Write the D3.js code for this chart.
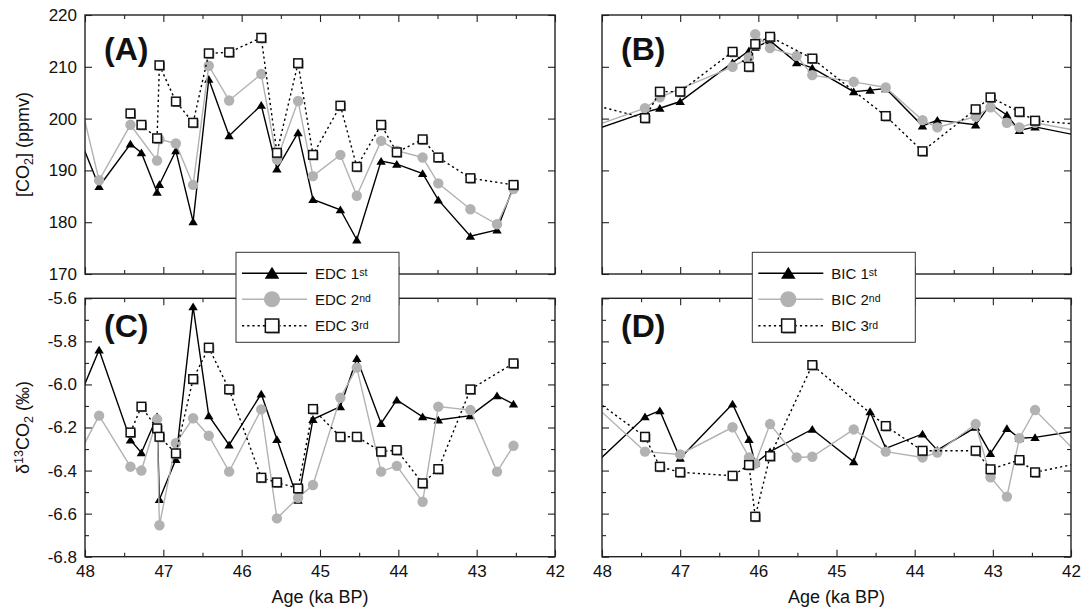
<!DOCTYPE html>
<html>
<head>
<meta charset="utf-8">
<script src="https://cdn.jsdelivr.net/npm/d3@7"></script>
<style>
  body { margin: 0; background: #fff; }
  svg { display: block; }
  text { font-family: "Liberation Sans", Arial, Helvetica, sans-serif; fill: #111; }
</style>
</head>
<body>
<svg id="chart" width="1084" height="613"></svg>
<script>
// ---- EDC core: sample ages (ka BP) shared by the CO2 and d13C series ----
const edcAge = [48.05, 47.82, 47.42, 47.28, 47.08, 47.05, 46.84, 46.62, 46.42, 46.16, 45.75,
                45.55, 45.28, 45.09, 44.74, 44.53, 44.22, 44.02, 43.69, 43.49, 43.08, 42.74, 42.53];
const edc1Co2 = [195.5, 186.9, 195.1, 193.4, 185.8, 187.3, 193.8, 180.1, 207.6, 196.7, 202.6,
                 190.3, 197.3, 184.4, 182.4, 176.6, 191.8, 191.2, 189.4, 184.3, 177.3, 178.5, 186.9];
const edc2Co2 = [202.6, 188.1, 198.8, null, 191.9, 196.0, 195.2, 187.2, 210.2, 203.5, 208.6,
                 192.1, 203.4, 188.9, 193.0, 185.1, 195.7, 193.8, 192.5, 187.5, 182.5, 179.6, 186.4];
const edc3Co2 = [null, null, 201.0, 198.8, 196.2, 210.3, 203.3, 199.2, 212.6, 212.8, 215.6,
                 193.4, 210.7, 193.0, 202.5, 190.7, 198.8, 193.5, 196.0, 192.5, 188.5, null, 187.2];
const edc1D13 = [-6.04, -5.84, -6.258, -6.317, -6.15, -6.534, -6.348, -5.639, -6.145, -6.281, -6.044,
                 -6.255, -6.537, -6.162, -6.103, -5.879, -6.181, -6.072, -6.15, -6.165, -6.145, -6.052, -6.091];
const edc2D13 = [-6.305, -6.145, -6.382, -6.40, -6.162, -6.654, -6.273, -6.157, -6.238, -6.405, -6.116,
                 -6.622, -6.526, -6.467, -6.062, -5.922, -6.405, -6.378, -6.545, -6.103, -6.119, -6.405, -6.285];
const edc3D13 = [null, null, -6.223, -6.103, -6.204, -6.243, -6.32, -5.975, -5.829, -6.023, -6.433,
                 -6.455, -6.483, -6.114, -6.243, -6.243, -6.312, -6.305, -6.459, -6.393, -6.023, null, -5.902];

// ---- BIC: sample ages (ka BP) ----
const bicAge = [48.1, 47.45, 47.26, 47.0, 46.33, 46.12, 46.04, 45.85, 45.51, 45.31, 44.78,
                44.57, 44.37, 43.9, 43.71, 43.22, 43.03, 42.82, 42.66, 42.46, 41.9];
const bic1Co2 = [197.8, 201.2, 202.0, 203.3, 210.8, 213.1, 213.8, 215.0, 210.8, 209.8, 205.2,
                 205.5, 205.8, 198.6, 199.7, 198.8, 202.8, 200.7, 197.7, 198.4, 196.7];
const bic2Co2 = [198.6, 202.0, 204.1, null, 210.0, 211.8, 216.3, 213.6, 212.1, 208.4, 207.1,
                 null, 206.0, 199.7, 198.3, 200.4, 202.2, 199.2, 198.3, 199.2, 197.6];
const bic3Co2 = [202.6, 200.1, 205.2, 205.2, 212.9, 210.0, 214.4, 215.8, null, 211.6, null,
                 null, 200.5, 193.7, null, 201.8, 204.1, null, 201.3, 199.6, 198.9];
const bic1D13 = [-6.372, -6.150, -6.122, -6.343, -6.091, -6.255, -6.367, -6.312, null, -6.208, -6.359,
                 -6.127, -6.297, -6.230, -6.305, -6.199, -6.320, -6.204, -6.250, -6.246, -6.214];
const bic2D13 = [-6.095, -6.312, null, -6.325, -6.199, -6.339, -6.367, -6.184, -6.339, -6.336, -6.209,
                 null, -6.312, -6.339, -6.316, -6.184, -6.431, -6.521, -6.250, -6.119, -6.327];
const bic3D13 = [-6.07, -6.243, -6.382, -6.408, -6.424, -6.374, -6.614, -6.333, null, -5.910, null,
                 null, -6.193, -6.308, null, -6.308, -6.394, null, -6.351, -6.408, -6.366];

// ---- axis ticks ----
const ageMajor = [48, 47, 46, 45, 44, 43, 42];
const ageMinor = [47.5, 46.5, 45.5, 44.5, 43.5, 42.5];
const co2Ticks = [170, 180, 190, 200, 210, 220];
const d13Major = [-6.8, -6.6, -6.4, -6.2, -6.0, -5.8, -5.6];
const d13Minor = [-6.7, -6.5, -6.3, -6.1, -5.9, -5.7];

const legendEdc = ["EDC", "EDC", "EDC"];
const legendBic = ["BIC", "BIC", "BIC"];
const ordinals = [["1", "st"], ["2", "nd"], ["3", "rd"]];

const GREY = "#b2b2b2";
const svg = d3.select("#chart");

const panels = [
  { id: "A", xr: [85, 555],  yr: [15, 274],    yd: [170, 220],   ages: edcAge, vals: [edc1Co2, edc2Co2, edc3Co2],
    yMajor: co2Ticks, yMinor: [], yLab: true, xLab: false, fmt: d => d },
  { id: "B", xr: [602, 1071], yr: [15, 274],   yd: [170, 220],   ages: bicAge, vals: [bic1Co2, bic2Co2, bic3Co2],
    yMajor: co2Ticks, yMinor: [], yLab: false, xLab: false, fmt: d => d },
  { id: "C", xr: [85, 555],  yr: [298.3, 556.7], yd: [-6.8, -5.6], ages: edcAge, vals: [edc1D13, edc2D13, edc3D13],
    yMajor: d13Major, yMinor: d13Minor, yLab: true, xLab: true, fmt: d => d.toFixed(1) },
  { id: "D", xr: [602, 1071], yr: [298.3, 556.7], yd: [-6.8, -5.6], ages: bicAge, vals: [bic1D13, bic2D13, bic3D13],
    yMajor: d13Major, yMinor: d13Minor, yLab: false, xLab: true, fmt: d => d.toFixed(1) }
];

// marker painters
function triangle(g, s) {
  const w = 4.7 * s, h = 4.2 * s;
  g.append("path").attr("d", `M0,${-h}L${w},${h * 0.85}L${-w},${h * 0.85}Z`).attr("fill", "#000");
}
function dot(g, s) {
  g.append("circle").attr("r", 5.2 * s).attr("fill", GREY);
}
function square(g, s) {
  const a = 4.3 * s;
  g.append("rect").attr("x", -a + 1.2).attr("y", -a + 1.2).attr("width", 2 * a).attr("height", 2 * a)
    .attr("fill", "#777");
  g.append("rect").attr("x", -a).attr("y", -a).attr("width", 2 * a).attr("height", 2 * a)
    .attr("fill", "#fff").attr("stroke", "#111").attr("stroke-width", 1.5);
}
const styles = [
  { stroke: "#000", dash: null, mark: triangle },
  { stroke: GREY, dash: null, mark: dot },
  { stroke: "#000", dash: "2.2,3", mark: square }
];

function styleAxis(sel, size) {
  sel.attr("font-size", null).attr("font-family", null);
  sel.select(".domain").remove();
  sel.selectAll(".tick line").attr("stroke", "#222").attr("stroke-width", 1.1);
  sel.selectAll("text").attr("font-size", size).attr("fill", "#111");
}

panels.forEach(p => {
  const x = d3.scaleLinear().domain([48, 42]).range(p.xr);
  const y = d3.scaleLinear().domain(p.yd).range([p.yr[1], p.yr[0]]);
  const g = svg.append("g");
  const [x0, x1] = p.xr, [y0, y1] = p.yr;

  // ticks on all four sides, pointing inward
  const none = () => "";
  g.append("g").attr("transform", `translate(0,${y1})`)
    .call(d3.axisBottom(x).tickValues(ageMajor).tickSize(-7).tickPadding(8)
      .tickFormat(p.xLab ? d3.format("d") : none)).call(s => styleAxis(s, 17));
  g.append("g").attr("transform", `translate(0,${y1})`)
    .call(d3.axisBottom(x).tickValues(ageMinor).tickSize(-4).tickFormat(none)).call(s => styleAxis(s, 17));
  g.append("g").attr("transform", `translate(0,${y0})`)
    .call(d3.axisTop(x).tickValues(ageMajor).tickSize(-7).tickFormat(none)).call(s => styleAxis(s, 17));
  g.append("g").attr("transform", `translate(0,${y0})`)
    .call(d3.axisTop(x).tickValues(ageMinor).tickSize(-4).tickFormat(none)).call(s => styleAxis(s, 17));
  g.append("g").attr("transform", `translate(${x0},0)`)
    .call(d3.axisLeft(y).tickValues(p.yMajor).tickSize(-7).tickPadding(8)
      .tickFormat(p.yLab ? p.fmt : none)).call(s => styleAxis(s, 17));
  g.append("g").attr("transform", `translate(${x0},0)`)
    .call(d3.axisLeft(y).tickValues(p.yMinor).tickSize(-4).tickFormat(none)).call(s => styleAxis(s, 17));
  g.append("g").attr("transform", `translate(${x1},0)`)
    .call(d3.axisRight(y).tickValues(p.yMajor).tickSize(-7).tickFormat(none)).call(s => styleAxis(s, 17));
  g.append("g").attr("transform", `translate(${x1},0)`)
    .call(d3.axisRight(y).tickValues(p.yMinor).tickSize(-4).tickFormat(none)).call(s => styleAxis(s, 17));

  // data, clipped to the plot frame
  const clipId = "clip" + p.id;
  svg.append("clipPath").attr("id", clipId).append("rect")
    .attr("x", x0).attr("y", y0).attr("width", x1 - x0).attr("height", y1 - y0);
  const plot = g.append("g").attr("clip-path", `url(#${clipId})`);
  const line = d3.line().x(d => x(d[0])).y(d => y(d[1]));

  p.vals.forEach((vals, k) => {
    const st = styles[k];
    const pts = p.ages.map((a, i) => [a, vals[i]]).filter(d => d[1] != null);
    plot.append("path").attr("d", line(pts)).attr("fill", "none")
      .attr("stroke", st.stroke).attr("stroke-width", 1.4)
      .attr("stroke-dasharray", st.dash);
    pts.filter(d => d[0] <= 48 && d[0] >= 42).forEach(d => {
      const m = plot.append("g").attr("transform", `translate(${x(d[0])},${y(d[1])})`);
      st.mark(m, 1);
    });
  });

  // frame
  g.append("rect").attr("x", x0).attr("y", y0).attr("width", x1 - x0).attr("height", y1 - y0)
    .attr("fill", "none").attr("stroke", "#222").attr("stroke-width", 1.4);

  // panel letter
  g.append("text").attr("x", x0 + 19).attr("y", y0 + (p.id === "A" || p.id === "B" ? 45 : 38.5))
    .attr("font-size", 32).attr("font-weight", "bold").text(`(${p.id})`);

  if (p.xLab) {
    g.append("text").attr("x", (x0 + x1) / 2).attr("y", 603).attr("text-anchor", "middle")
      .attr("font-size", 18).text("Age (ka BP)");
  }
});

// y-axis titles
const co2Title = svg.append("text").attr("transform", "translate(29,144.5) rotate(-90)")
  .attr("text-anchor", "middle").attr("font-size", 18);
co2Title.append("tspan").text("[CO");
co2Title.append("tspan").attr("font-size", 12.5).attr("dy", 4).text("2");
co2Title.append("tspan").attr("dy", -4).text("] (ppmv)");

const d13Title = svg.append("text").attr("transform", "translate(29,427.5) rotate(-90)")
  .attr("text-anchor", "middle").attr("font-size", 18);
d13Title.append("tspan").text("δ");
d13Title.append("tspan").attr("font-size", 12.5).attr("dy", -6).text("13");
d13Title.append("tspan").attr("dy", 6).text("CO");
d13Title.append("tspan").attr("font-size", 12.5).attr("dy", 4).text("2");
d13Title.append("tspan").attr("dy", -4).text(" (‰)");

// legends
function legend(x0, names) {
  const g = svg.append("g");
  g.append("rect").attr("x", x0).attr("y", 252.3).attr("width", 163).attr("height", 90)
    .attr("fill", "#fff").attr("stroke", "#333").attr("stroke-width", 1);
  const rows = [273.3, 299.3, 325.7];
  names.forEach((name, k) => {
    const st = styles[k], cy = rows[k];
    g.append("line").attr("x1", x0 + 6).attr("x2", x0 + 71).attr("y1", cy).attr("y2", cy)
      .attr("stroke", st.stroke).attr("stroke-width", 1.4).attr("stroke-dasharray", st.dash);
    const m = g.append("g").attr("transform", `translate(${x0 + 36},${cy})`);
    st.mark(m, 1.55);
    const t = g.append("text").attr("x", x0 + 79).attr("y", cy + 5.5).attr("font-size", 15);
    t.append("tspan").text(`${name} ${ordinals[k][0]}`);
    t.append("tspan").attr("font-size", 10.5).attr("dy", -2.5).text(ordinals[k][1]);
  });
}
legend(236, legendEdc);
legend(752.3, legendBic);
</script>
</body>
</html>
